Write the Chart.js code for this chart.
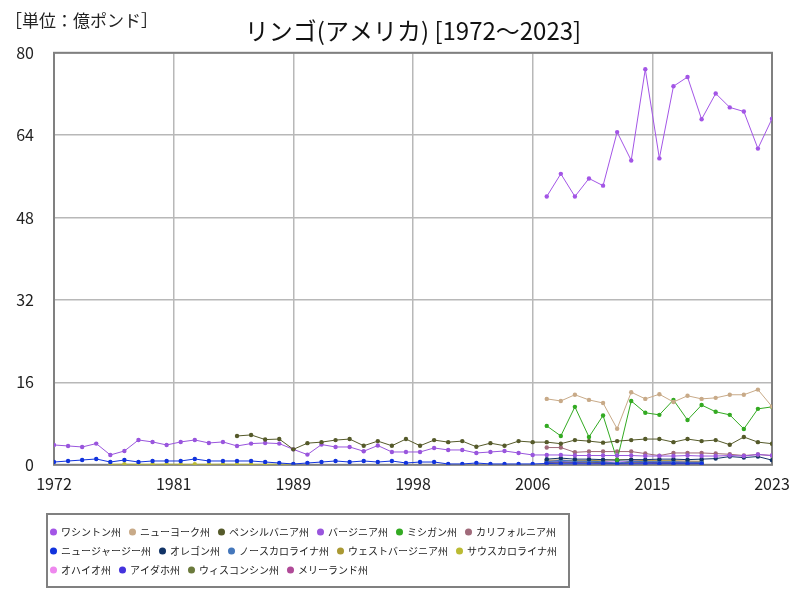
<!DOCTYPE html>
<html lang="ja">
<head>
<meta charset="utf-8">
<title>リンゴ(アメリカ)</title>
<script src="https://cdn.jsdelivr.net/npm/chart.js@4.4.1/dist/chart.umd.min.js"></script>
<style>
  html, body { margin: 0; padding: 0; background: #fff; }
  #wrap { width: 800px; height: 600px; }
</style>
</head>
<body>
<div id="wrap"><canvas id="appleChart" width="800" height="600"></canvas></div>
<script>
// 単位: 億ポンド
const FONT = '"Noto Sans CJK JP", "Noto Sans", sans-serif';
const LEGEND_WIDTH = 560;

const xTickLabels = ['1972', '1981', '1989', '1998', '2006', '2015', '2023'];
const yTicksStep = 16;

// 各州のデータ (開始年 + 値の配列)
const washingtonStart = 2007;
const washington = [52.1, 56.5, 52.1, 55.6, 54.2, 64.6, 59.1, 76.8, 59.5, 73.5, 75.3, 67.1, 72.1, 69.4, 68.6, 61.4, 67.2];

const newYorkStart = 2007;
const newYork = [12.8, 12.4, 13.6, 12.6, 12.0, 7.0, 14.1, 12.8, 13.7, 12.2, 13.4, 12.8, 13.0, 13.6, 13.6, 14.6, 11.3];

const pennsylvaniaStart = 1985;
const pennsylvania = [5.6, 5.8, 4.9, 5.0, 3.0, 4.2, 4.4, 4.8, 5.0, 3.7, 4.6, 3.7, 5.0, 3.7, 4.8, 4.4, 4.6, 3.5, 4.2, 3.7, 4.6, 4.4,
  4.4, 4.1, 4.8, 4.6, 4.3, 4.6, 4.8, 5.0, 5.0, 4.4, 5.0, 4.6, 4.8, 3.9, 5.4, 4.4, 4.1];

const virginiaStart = 1972;
const virginia = [3.85, 3.66, 3.46, 4.12, 1.91, 2.68, 4.82, 4.44, 3.85, 4.44, 4.82, 4.24, 4.44, 3.66, 4.12, 4.24, 4.12, 3.0,
  1.98, 3.93, 3.46, 3.46, 2.63, 3.74, 2.49, 2.49, 2.49, 3.27, 2.88, 2.88, 2.3, 2.49, 2.68, 2.3, 1.91,
  1.91, 1.91, 1.8, 1.8, 1.8, 1.8, 1.8, 1.7, 1.7, 1.7, 1.8, 1.7, 1.7, 1.8, 1.7, 2.0, 1.8];

const michiganStart = 2007;
const michigan = [7.55, 5.6, 11.25, 5.4, 9.57, 0.93, 12.4, 10.1, 9.7, 12.6, 8.7, 11.6, 10.3, 9.7, 6.96, 10.86, 11.25];

const californiaStart = 2007;
const california = [3.35, 3.35, 2.43, 2.57, 2.57, 2.57, 2.57, 2.18, 1.79, 2.3, 2.3, 2.3, 2.18, 2.04, 1.8, 2.0, 1.8];

const newJerseyStart = 1972;
const newJersey = [0.54, 0.74, 0.93, 1.13, 0.54, 0.93, 0.54, 0.74, 0.74, 0.74, 1.13, 0.74, 0.74, 0.74, 0.74, 0.54, 0.35, 0.16,
  0.35, 0.54, 0.74, 0.54, 0.74, 0.54, 0.74, 0.35, 0.54, 0.54, 0.16, 0.16, 0.35, 0.16, 0.16, 0.16, 0.16,
  0.25, 0.2, 0.2, 0.2, 0.2, 0.2, 0.2, 0.2, 0.2, 0.2, 0.2, 0.2];

const oregonStart = 2007;
const oregon = [1.1, 1.3, 1.1, 1.1, 1.0, 0.9, 1.0, 1.0, 1.1, 1.1, 1.0, 1.1, 1.2, 1.6, 1.4, 1.6, 0.9];

const northCarolinaStart = 2007;
const northCarolina = [0.6, 0.9, 0.7, 0.7, 0.6, 0.3, 0.7, 0.6, 0.6, 0.6, 0.5, 0.5];

const westVirginiaStart = 2007;
const westVirginia = [0.9, 0.9, 0.8, 0.8, 0.9, 1.0, 1.0, 0.8, 0.8, 0.8, 0.7, 0.7];

const southCarolinaStart = 1976;
const southCarolina = [0.1, 0.12, 0.1, 0.1, 0.12, 0.1, 0.1, 0.1, 0.12, 0.1, 0.1, 0.1, 0.12, 0.1];

const ohioStart = 2007;
const ohio = [0.8, 0.9, 0.8, 0.8, 0.7, 0.4, 0.8, 0.8, 0.7, 0.7, 0.7, 0.6];

const idahoStart = 2007;
const idaho = [0.5, 0.6, 0.5, 0.6, 0.5, 0.5, 0.6, 0.5, 0.5, 0.5, 0.5, 0.4];

const wisconsinStart = 2007;
const wisconsin = [0.5, 0.5, 0.5, 0.5, 0.4, 0.3, 0.5, 0.5, 0.4, 0.4, 0.4, 0.4];

const marylandStart = 2007;
const maryland = [0.35, 0.4, 0.35, 0.35, 0.3, 0.3, 0.35, 0.35, 0.3, 0.3, 0.3, 0.3];

/**
 * 開始年と値の配列から折れ線のデータセットを作る。
 */
function series(label, color, start, values) {
    return {
        label,
        data: values.map((v, i) => ({ x: start + i, y: v })),
        borderColor: color,
        backgroundColor: color,
        borderWidth: 1,
        pointRadius: 2.2,
        pointBorderWidth: 0,
        pointStyle: 'circle',
        tension: 0
    };
}

const datasets = [
    series('ワシントン州', '#a355e6', washingtonStart, washington),
    series('ニューヨーク州', '#c8aa88', newYorkStart, newYork),
    series('ペンシルバニア州', '#555a2a', pennsylvaniaStart, pennsylvania),
    series('バージニア州', '#9955dd', virginiaStart, virginia),
    series('ミシガン州', '#33aa22', michiganStart, michigan),
    series('カリフォルニア州', '#a06a7a', californiaStart, california),
    series('ニュージャージー州', '#1133dd', newJerseyStart, newJersey),
    series('オレゴン州', '#113366', oregonStart, oregon),
    series('ノースカロライナ州', '#4477bb', northCarolinaStart, northCarolina),
    series('ウェストバージニア州', '#aa9933', westVirginiaStart, westVirginia),
    series('サウスカロライナ州', '#bbbb33', southCarolinaStart, southCarolina),
    series('オハイオ州', '#ee88ee', ohioStart, ohio),
    series('アイダホ州', '#4433dd', idahoStart, idaho),
    series('ウィスコンシン州', '#6b7a3c', wisconsinStart, wisconsin),
    series('メリーランド州', '#b04a98', marylandStart, maryland)
];

// 凡例を左に寄せ、折り返し幅を合わせて枠を描く
const legendFrame = {
    id: 'legendFrame',
    beforeDraw(chart) {
        const lg = chart.legend;
        if (!lg) return;
        lg.left = 42;
        lg.right = lg.left + LEGEND_WIDTH;
    },
    afterDraw(chart) {
        const lg = chart.legend;
        if (!lg || !lg.lineWidths) return;
        const pad = lg.options.labels.padding;
        const itemH = lg.options.labels.font.size;
        const rows = lg.lineWidths.length;
        const x0 = lg.left + pad;
        const x1 = x0 + Math.max(...lg.lineWidths) - pad;
        const y0 = lg.top + pad;
        const y1 = y0 + rows * (itemH + pad) - pad;
        const ctx = chart.ctx;
        ctx.save();
        ctx.strokeStyle = '#808080';
        ctx.lineWidth = 2;
        ctx.strokeRect(x0 - 4, y0 - 13, x1 - x0 + 16, y1 - y0 + 25);
        ctx.restore();
    }
};

// プロット領域の枠と単位表示
const plotFrame = {
    id: 'plotFrame',
    beforeDatasetsDraw(chart) {
        const { left, top, width, height } = chart.chartArea;
        const ctx = chart.ctx;
        ctx.save();
        ctx.strokeStyle = '#808080';
        ctx.lineWidth = 2;
        ctx.strokeRect(left, top, width, height);
        ctx.restore();
    },
    afterDraw(chart) {
        const ctx = chart.ctx;
        ctx.save();
        ctx.font = '17px ' + FONT;
        ctx.fillStyle = '#222';
        ctx.textBaseline = 'middle';
        ctx.textAlign = 'left';
        ctx.fillText('［単位：億ポンド］', 5, 21);
        ctx.restore();
    }
};

const ctx = document.getElementById('appleChart').getContext('2d');
const chart = new Chart(ctx, {
    type: 'line',
    data: { datasets },
    options: {
        responsive: false,
        animation: false,
        layout: { padding: { left: 14, right: 28, top: 0, bottom: 15 } },
        plugins: {
            title: {
                display: true,
                text: 'リンゴ(アメリカ) [1972～2023]',
                fullSize: false,
                color: '#111',
                font: { family: FONT, size: 24, weight: 'normal', lineHeight: 1.2 },
                padding: { top: 16, bottom: 8 }
            },
            legend: {
                position: 'bottom',
                align: 'start',
                labels: {
                    usePointStyle: true,
                    pointStyle: 'circle',
                    boxWidth: 5,
                    boxHeight: 5,
                    padding: 9,
                    color: '#222',
                    font: { family: FONT, size: 10 }
                }
            },
            tooltip: { enabled: false }
        },
        scales: {
            x: {
                type: 'linear',
                min: 1972,
                max: 2023,
                afterBuildTicks(axis) {
                    const n = xTickLabels.length - 1;
                    axis.ticks = xTickLabels.map((_, i) => ({ value: axis.min + (axis.max - axis.min) * i / n }));
                },
                afterFit(scale) { scale.height = 53.2; },
                grid: { color: '#b8b8b8', lineWidth: 1.5, drawTicks: false },
                border: { display: false },
                ticks: {
                    padding: 10,
                    maxRotation: 0,
                    autoSkip: false,
                    color: '#222',
                    font: { family: FONT, size: 16 },
                    callback: (v, i) => xTickLabels[i]
                }
            },
            y: {
                min: 0,
                max: 80,
                afterFit(scale) { scale.width = 40; },
                grid: { color: '#b8b8b8', lineWidth: 1.5, drawTicks: false },
                border: { display: false },
                ticks: {
                    stepSize: yTicksStep,
                    padding: 20,
                    color: '#222',
                    font: { family: FONT, size: 16 }
                }
            }
        }
    },
    plugins: [legendFrame, plotFrame]
});

// 凡例の行の組み方も同じ幅で計算させる
const legendUpdate = chart.legend.update.bind(chart.legend);
chart.legend.update = (w, h, m) => legendUpdate(Math.min(w, LEGEND_WIDTH), h, m);
chart.update();
</script>
</body>
</html>
